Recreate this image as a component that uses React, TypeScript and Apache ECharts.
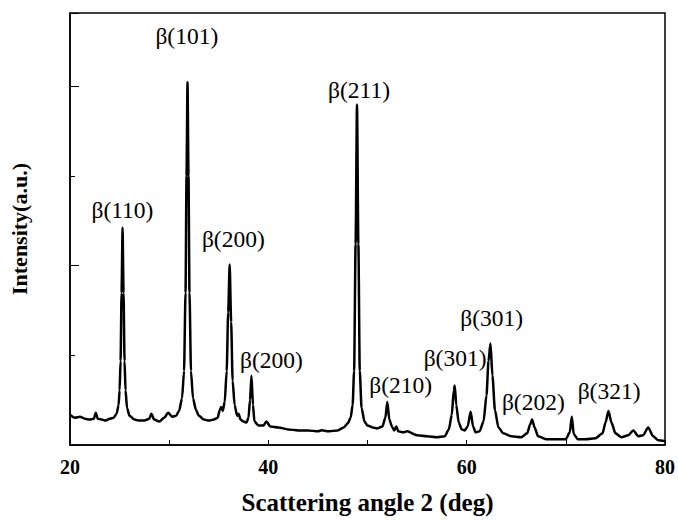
import React, { useEffect, useRef } from "react";
import * as echarts from "echarts";

// 2θ (deg) sample positions
const angles = [
  20.0, 20.5, 21.0, 21.5, 22.0, 22.4, 22.6, 22.8, 23.2, 23.6, 24.0, 24.4, 24.7, 24.9,
  25.0, 25.1, 25.2, 25.3, 25.4, 25.5, 25.6, 25.75, 26.0, 26.5, 27.0, 27.5, 28.0, 28.2,
  28.5, 29.0, 29.5, 29.9, 30.3, 30.7, 31.0, 31.3, 31.5, 31.65, 31.75, 31.85, 31.95, 32.05,
  32.2, 32.4, 32.7, 33.0, 33.5, 34.0, 34.5, 34.9, 35.1, 35.25, 35.4, 35.6, 35.8, 35.95,
  36.1, 36.25, 36.4, 36.6, 36.85, 37.0, 37.2, 37.5, 37.8, 38.0, 38.15, 38.3, 38.45, 38.6,
  39.0, 39.5, 39.8, 40.2, 41.0, 42.0, 43.0, 44.0, 45.0, 45.4, 46.0, 47.0, 47.6, 48.0,
  48.3, 48.5, 48.65, 48.8, 48.94, 49.08, 49.22, 49.4, 49.7, 50.0, 50.5, 51.0, 51.5, 51.8,
  52.0, 52.2, 52.5, 52.7, 52.9, 53.1, 53.6, 54.0, 55.0, 56.0, 57.0, 57.8, 58.2, 58.5,
  58.7, 58.8, 58.95, 59.2, 59.5, 59.8, 60.1, 60.4, 60.65, 60.9, 61.3, 61.7, 62.0, 62.2,
  62.4, 62.6, 62.85, 63.2, 63.7, 64.5, 65.5, 66.1, 66.4, 66.6, 66.85, 67.2, 68.0, 69.0,
  70.0, 70.4, 70.6, 70.8, 71.2, 72.0, 73.0, 73.7, 74.0, 74.3, 74.6, 75.0, 75.6, 76.3,
  76.8, 77.3, 77.8, 78.3, 78.8, 79.3, 80.0,
];

// intensity (a.u.) read at each angle
const intensity = [
  337, 304, 315, 293, 283, 293, 359, 293, 283, 272, 293, 304, 348, 446,
  609, 935, 1696, 2424, 1696, 935, 609, 413, 326, 283, 272, 272, 293, 348,
  283, 261, 304, 359, 315, 326, 380, 522, 826, 1696, 3000, 4044, 3000, 1696,
  826, 522, 391, 326, 283, 272, 283, 304, 391, 424, 380, 478, 826, 1478,
  2011, 1370, 717, 446, 326, 348, 283, 261, 250, 304, 500, 772, 446, 261,
  217, 217, 261, 207, 196, 174, 163, 163, 152, 165, 152, 163, 196, 239,
  304, 446, 826, 2239, 3794, 2239, 826, 413, 261, 217, 196, 185, 207, 304,
  478, 283, 196, 163, 207, 152, 141, 152, 109, 98, 87, 98, 174, 337,
  609, 663, 446, 250, 174, 163, 207, 370, 207, 141, 152, 261, 554, 935,
  1130, 772, 391, 196, 130, 98, 87, 130, 228, 283, 196, 98, 65, 65,
  65, 141, 315, 120, 65, 65, 76, 130, 250, 380, 250, 130, 87, 109,
  163, 98, 109, 196, 98, 54, 43,
];

// peak annotations
const peakLabels = ["β(110)", "β(101)", "β(200)", "β(200)", "β(211)", "β(210)", "β(301)", "β(301)", "β(202)", "β(321)"];
const labelAngles = [25.29, 31.78, 36.47, 40.32, 49.15, 53.34, 58.83, 62.53, 66.72, 74.36];
const labelIntensity = [2620, 4555, 2294, 946, 3957, 674, 967, 1413, 478, 598];

const xTickLabels = [20, 40, 60, 80];

const FONT = "Liberation Serif";

export default function App() {
  const ref = useRef<HTMLDivElement>(null);
  useEffect(() => {
    if (!ref.current) return;
    const chart = echarts.init(ref.current, undefined, { renderer: "svg" });
    const data = angles.map((a, i) => [a, intensity[i]]);
    const yMax = 4815;
    chart.setOption({
      animation: false,
      backgroundColor: "#fff",
      grid: {
        left: 66,
        right: 11,
        top: 13,
        bottom: 64,
        show: true,
        borderColor: "#000",
        borderWidth: 1.5,
        containLabel: false,
      },
      xAxis: {
        type: "value",
        min: 20,
        max: 80,
        interval: 10,
        name: "Scattering angle 2 (deg)",
        nameLocation: "middle",
        nameGap: 45,
        nameTextStyle: { fontFamily: FONT, fontWeight: "bold", fontSize: 25, color: "#000" },
        axisLine: { show: true, lineStyle: { color: "#000", width: 1.5 } },
        axisTick: { show: true, inside: true, length: 5, lineStyle: { color: "#000", width: 1 } },
        axisLabel: {
          fontFamily: FONT,
          fontWeight: "bold",
          fontSize: 20,
          color: "#000",
          margin: 12,
          formatter: (v: number) => (xTickLabels.includes(v) ? String(v) : ""),
        },
        splitLine: { show: false },
      },
      yAxis: [
        {
          type: "value",
          min: 0,
          max: yMax,
          interval: 2000,
          name: "Intensity(a.u.)",
          nameLocation: "middle",
          nameGap: 40,
          nameTextStyle: { fontFamily: FONT, fontWeight: "bold", fontSize: 22, color: "#000" },
          axisLine: { show: true, lineStyle: { color: "#000", width: 1.5 } },
          axisTick: { show: true, inside: true, length: 9, lineStyle: { color: "#000", width: 1 } },
          axisLabel: { show: false },
          splitLine: { show: false },
        },
        {
          type: "value",
          min: 0,
          max: yMax,
          interval: 1000,
          position: "left",
          axisLine: { show: false },
          axisTick: { show: true, inside: true, length: 5, lineStyle: { color: "#000", width: 1 } },
          axisLabel: { show: false },
          splitLine: { show: false },
        },
      ],
      series: [
        {
          type: "line",
          yAxisIndex: 0,
          data,
          showSymbol: false,
          symbol: "none",
          smooth: 0.25,
          smoothMonotone: "x",
          lineStyle: { color: "#000", width: 2.5 },
          markPoint: {
            symbol: "circle",
            symbolSize: 1,
            itemStyle: { color: "rgba(0,0,0,0)" },
            label: {
              show: true,
              position: "inside",
              color: "#000",
              fontFamily: FONT,
              fontSize: 23.5,
              formatter: (p: any) => p.name,
            },
            data: peakLabels.map((t, i) => ({ name: t, coord: [labelAngles[i], labelIntensity[i]] })),
          },
        },
      ],
    });
    return () => chart.dispose();
  }, []);
  return <div ref={ref} style={{ position: "fixed", left: 0, top: 0, width: 678, height: 520 }} />;
}
